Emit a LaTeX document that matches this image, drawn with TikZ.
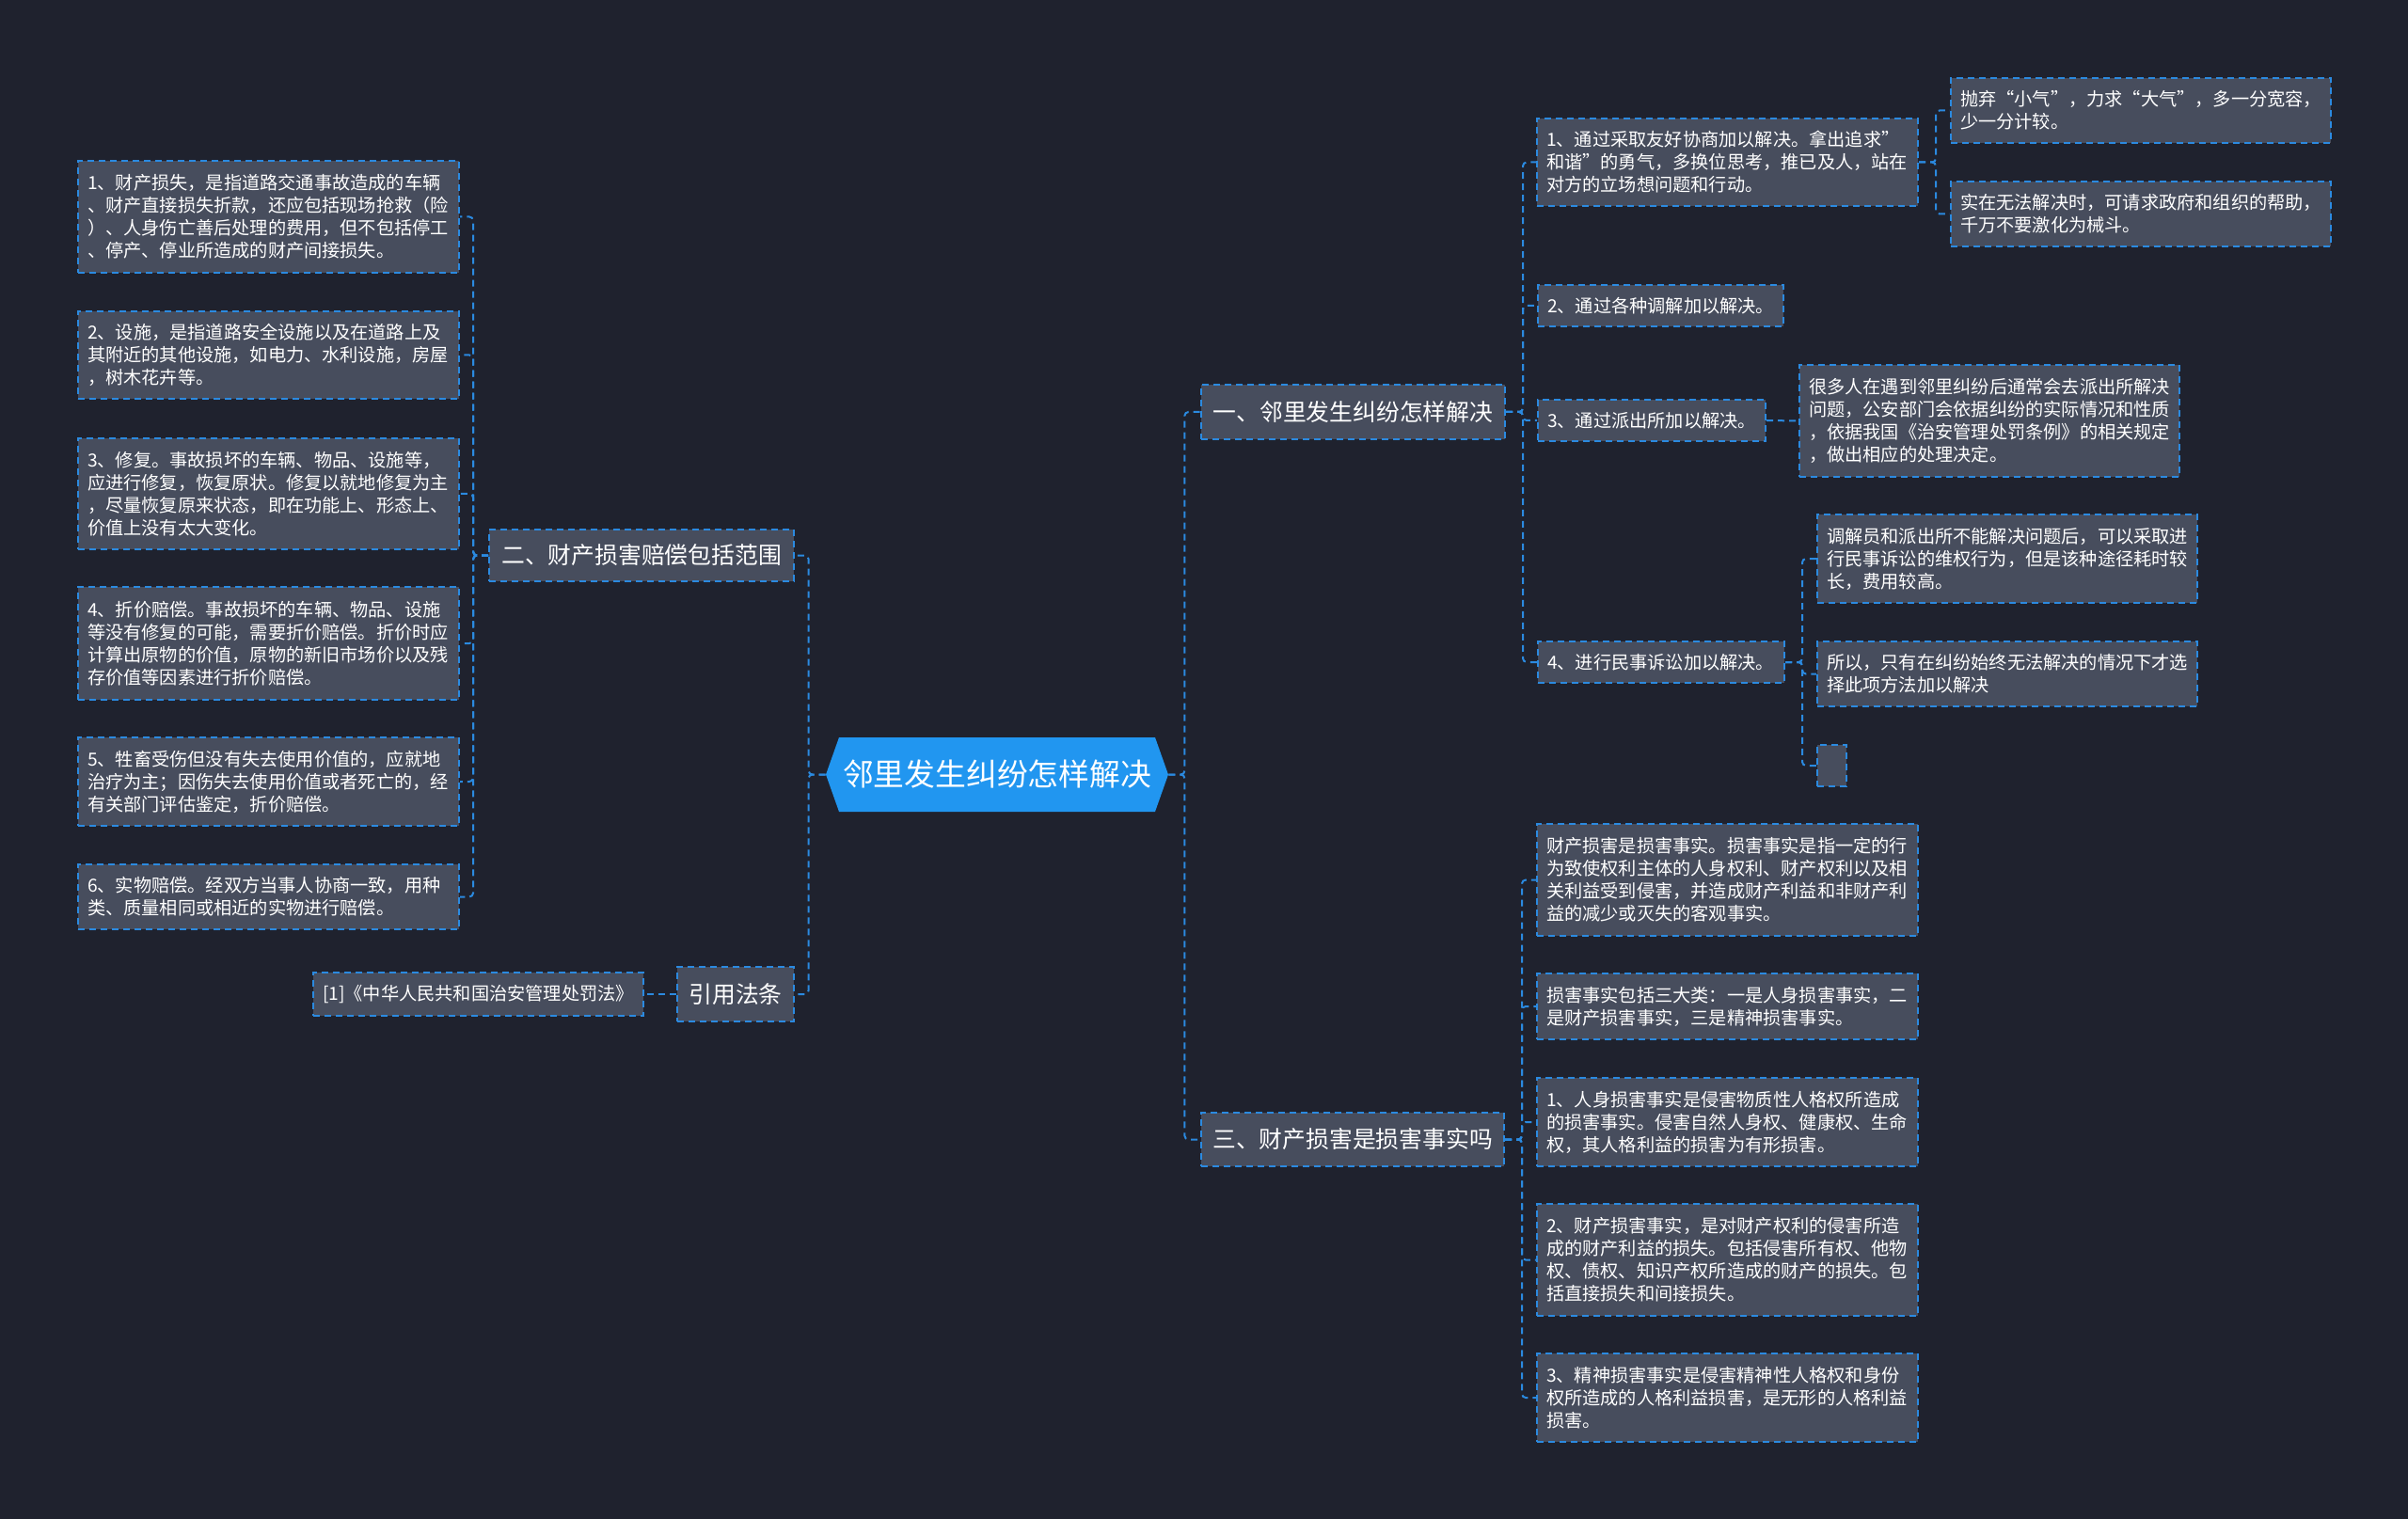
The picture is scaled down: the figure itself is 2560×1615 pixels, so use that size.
\documentclass[tikz,border=0pt]{standalone}
\usepackage{fontspec}
\setmainfont{Noto Sans CJK SC}
\definecolor{bgc}{HTML}{1F222E}
\definecolor{boxc}{HTML}{474D5D}
\definecolor{linec}{HTML}{2B8AE0}
\definecolor{centc}{HTML}{2196F0}
\tikzset{
  leaf/.style={draw=linec, line width=1pt, dash pattern=on 3.5pt off 2.5pt, fill=boxc, text=white,
    font=\fontsize{9.6pt}{12pt}\selectfont, align=left, inner xsep=5pt, inner ysep=0pt, anchor=north west},
  branch/.style={draw=linec, line width=1pt, dash pattern=on 3.5pt off 2.5pt, fill=boxc, text=white,
    font=\fontsize{12.4pt}{15pt}\selectfont, inner sep=0pt, anchor=north west},
  conn/.style={draw=linec, line width=1pt, dash pattern=on 3.5pt off 2.5pt, rounded corners=2pt},
}
\begin{document}
\begin{tikzpicture}[x=0.5pt,y=-0.5pt]
\fill[bgc] (0,0) rectangle (2560,1615);
\useasboundingbox (0,0) rectangle (2560,1615);

% center
\node[minimum width=182pt, minimum height=39.5pt, inner sep=0pt, text=white,
  font=\fontsize{16.4pt}{19pt}\selectfont,
  path picture={\fill[centc] (path picture bounding box.west) -- ([xshift=7pt]path picture bounding box.north west) -- ([xshift=-7pt]path picture bounding box.north east) -- (path picture bounding box.east) -- ([xshift=-7pt]path picture bounding box.south east) -- ([xshift=7pt]path picture bounding box.south west) -- cycle;}]
  (C) at (1060,823.5) {邻里发生纠纷怎样解决};

% left branch
\node[branch, minimum width=162pt, minimum height=27.5pt] (B2) at (519,562) {二、财产损害赔偿包括范围};
\node[branch, minimum width=62pt, minimum height=29pt] (BR) at (719,1027) {引用法条};
\node[leaf, text width=165.5pt, minimum height=23pt] (REF) at (332,1033) {[1]《中华人民共和国治安管理处罚法》};

\node[leaf, text width=192.5pt, minimum height=59.5pt] (L1) at (82,170) {1、财产损失，是指道路交通事故造成的车辆\\、财产直接损失折款，还应包括现场抢救（险\\）、人身伤亡善后处理的费用，但不包括停工\\、停产、停业所造成的财产间接损失。};
\node[leaf, text width=192.5pt, minimum height=46.5pt] (L2) at (82,330) {2、设施，是指道路安全设施以及在道路上及\\其附近的其他设施，如电力、水利设施，房屋\\，树木花卉等。};
\node[leaf, text width=192.5pt, minimum height=59pt] (L3) at (82,465) {3、修复。事故损坏的车辆、物品、设施等，\\应进行修复，恢复原状。修复以就地修复为主\\，尽量恢复原来状态，即在功能上、形态上、\\价值上没有太大变化。};
\node[leaf, text width=192.5pt, minimum height=60pt] (L4) at (82,623) {4、折价赔偿。事故损坏的车辆、物品、设施\\等没有修复的可能，需要折价赔偿。折价时应\\计算出原物的价值，原物的新旧市场价以及残\\存价值等因素进行折价赔偿。};
\node[leaf, text width=192.5pt, minimum height=47pt] (L5) at (82,783) {5、牲畜受伤但没有失去使用价值的，应就地\\治疗为主；因伤失去使用价值或者死亡的，经\\有关部门评估鉴定，折价赔偿。};
\node[leaf, text width=192.5pt, minimum height=34.5pt] (L6) at (82,918) {6、实物赔偿。经双方当事人协商一致，用种\\类、质量相同或相近的实物进行赔偿。};

% right branches
\node[branch, minimum width=161.5pt, minimum height=29pt] (B1) at (1276,408) {一、邻里发生纠纷怎样解决};
\node[branch, minimum width=161pt, minimum height=28.5pt] (B3) at (1276,1182) {三、财产损害是损害事实吗};

\node[leaf, text width=192.5pt, minimum height=46.5pt] (R1) at (1633,125) {1、通过采取友好协商加以解决。拿出追求”\\和谐”的勇气，多换位思考，推已及人，站在\\对方的立场想问题和行动。};
\node[leaf, text width=192pt, minimum height=34.5pt] (R1a) at (2073,82) {抛弃“小气”，力求“大气”，多一分宽容，\\少一分计较。};
\node[leaf, text width=192pt, minimum height=34.5pt] (R1b) at (2073,192) {实在无法解决时，可请求政府和组织的帮助，\\千万不要激化为械斗。};
\node[leaf, text width=120.5pt, minimum height=22pt] (R2) at (1634,302) {2、通过各种调解加以解决。};
\node[leaf, text width=111pt, minimum height=22pt] (R3) at (1634,424) {3、通过派出所加以解决。};
\node[leaf, text width=192pt, minimum height=59.5pt] (R3a) at (1912,387) {很多人在遇到邻里纠纷后通常会去派出所解决\\问题，公安部门会依据纠纷的实际情况和性质\\，依据我国《治安管理处罚条例》的相关规定\\，做出相应的处理决定。};
\node[leaf, text width=121pt, minimum height=22pt] (R4) at (1634,681) {4、进行民事诉讼加以解决。};
\node[leaf, text width=192pt, minimum height=47pt] (R4a) at (1931,546) {调解员和派出所不能解决问题后，可以采取进\\行民事诉讼的维权行为，但是该种途径耗时较\\长，费用较高。};
\node[leaf, text width=192pt, minimum height=34.5pt] (R4b) at (1931,681) {所以，只有在纠纷始终无法解决的情况下才选\\择此项方法加以解决};
\node[leaf, text width=5.5pt, minimum height=22pt] (R4c) at (1931,791) {};

\node[leaf, text width=192.5pt, minimum height=59.5pt] (S1) at (1633,875) {财产损害是损害事实。损害事实是指一定的行\\为致使权利主体的人身权利、财产权利以及相\\关利益受到侵害，并造成财产利益和非财产利\\益的减少或灭失的客观事实。};
\node[leaf, text width=192.5pt, minimum height=35pt] (S2) at (1633,1034) {损害事实包括三大类：一是人身损害事实，二\\是财产损害事实，三是精神损害事实。};
\node[leaf, text width=192.5pt, minimum height=47pt] (S3) at (1633,1145) {1、人身损害事实是侵害物质性人格权所造成\\的损害事实。侵害自然人身权、健康权、生命\\权，其人格利益的损害为有形损害。};
\node[leaf, text width=192.5pt, minimum height=59.5pt] (S4) at (1633,1279) {2、财产损害事实，是对财产权利的侵害所造\\成的财产利益的损失。包括侵害所有权、他物\\权、债权、知识产权所造成的财产的损失。包\\括直接损失和间接损失。};
\node[leaf, text width=192.5pt, minimum height=47pt] (S5) at (1633,1438) {3、精神损害事实是侵害精神性人格权和身份\\权所造成的人格利益损害，是无形的人格利益\\损害。};

% connectors left
\foreach \n in {B2,BR} \draw[conn] (C.west) -- ++(-9pt,0) |- (\n.east);
\foreach \n in {L1,L2,L3,L4,L5,L6} \draw[conn] (B2.west) -- ++(-8pt,0) |- (\n.east);
\draw[conn] (BR.west) -- (REF.east);
% connectors right
\foreach \n in {B1,B3} \draw[conn] (C.east) -- ++(8.5pt,0) |- (\n.west);
\foreach \n in {R1,R2,R3,R4} \draw[conn] (B1.east) -- ++(9pt,0) |- (\n.west);
\foreach \n in {R1a,R1b} \draw[conn] (R1.east) -- ++(9pt,0) |- (\n.west);
\draw[conn] (R3.east) -- (R3a.west);
\foreach \n in {R4a,R4b,R4c} \draw[conn] (R4.east) -- ++(9pt,0) |- (\n.west);
\foreach \n in {S1,S2,S3,S4,S5} \draw[conn] (B3.east) -- ++(9pt,0) |- (\n.west);
\end{tikzpicture}
\end{document}
